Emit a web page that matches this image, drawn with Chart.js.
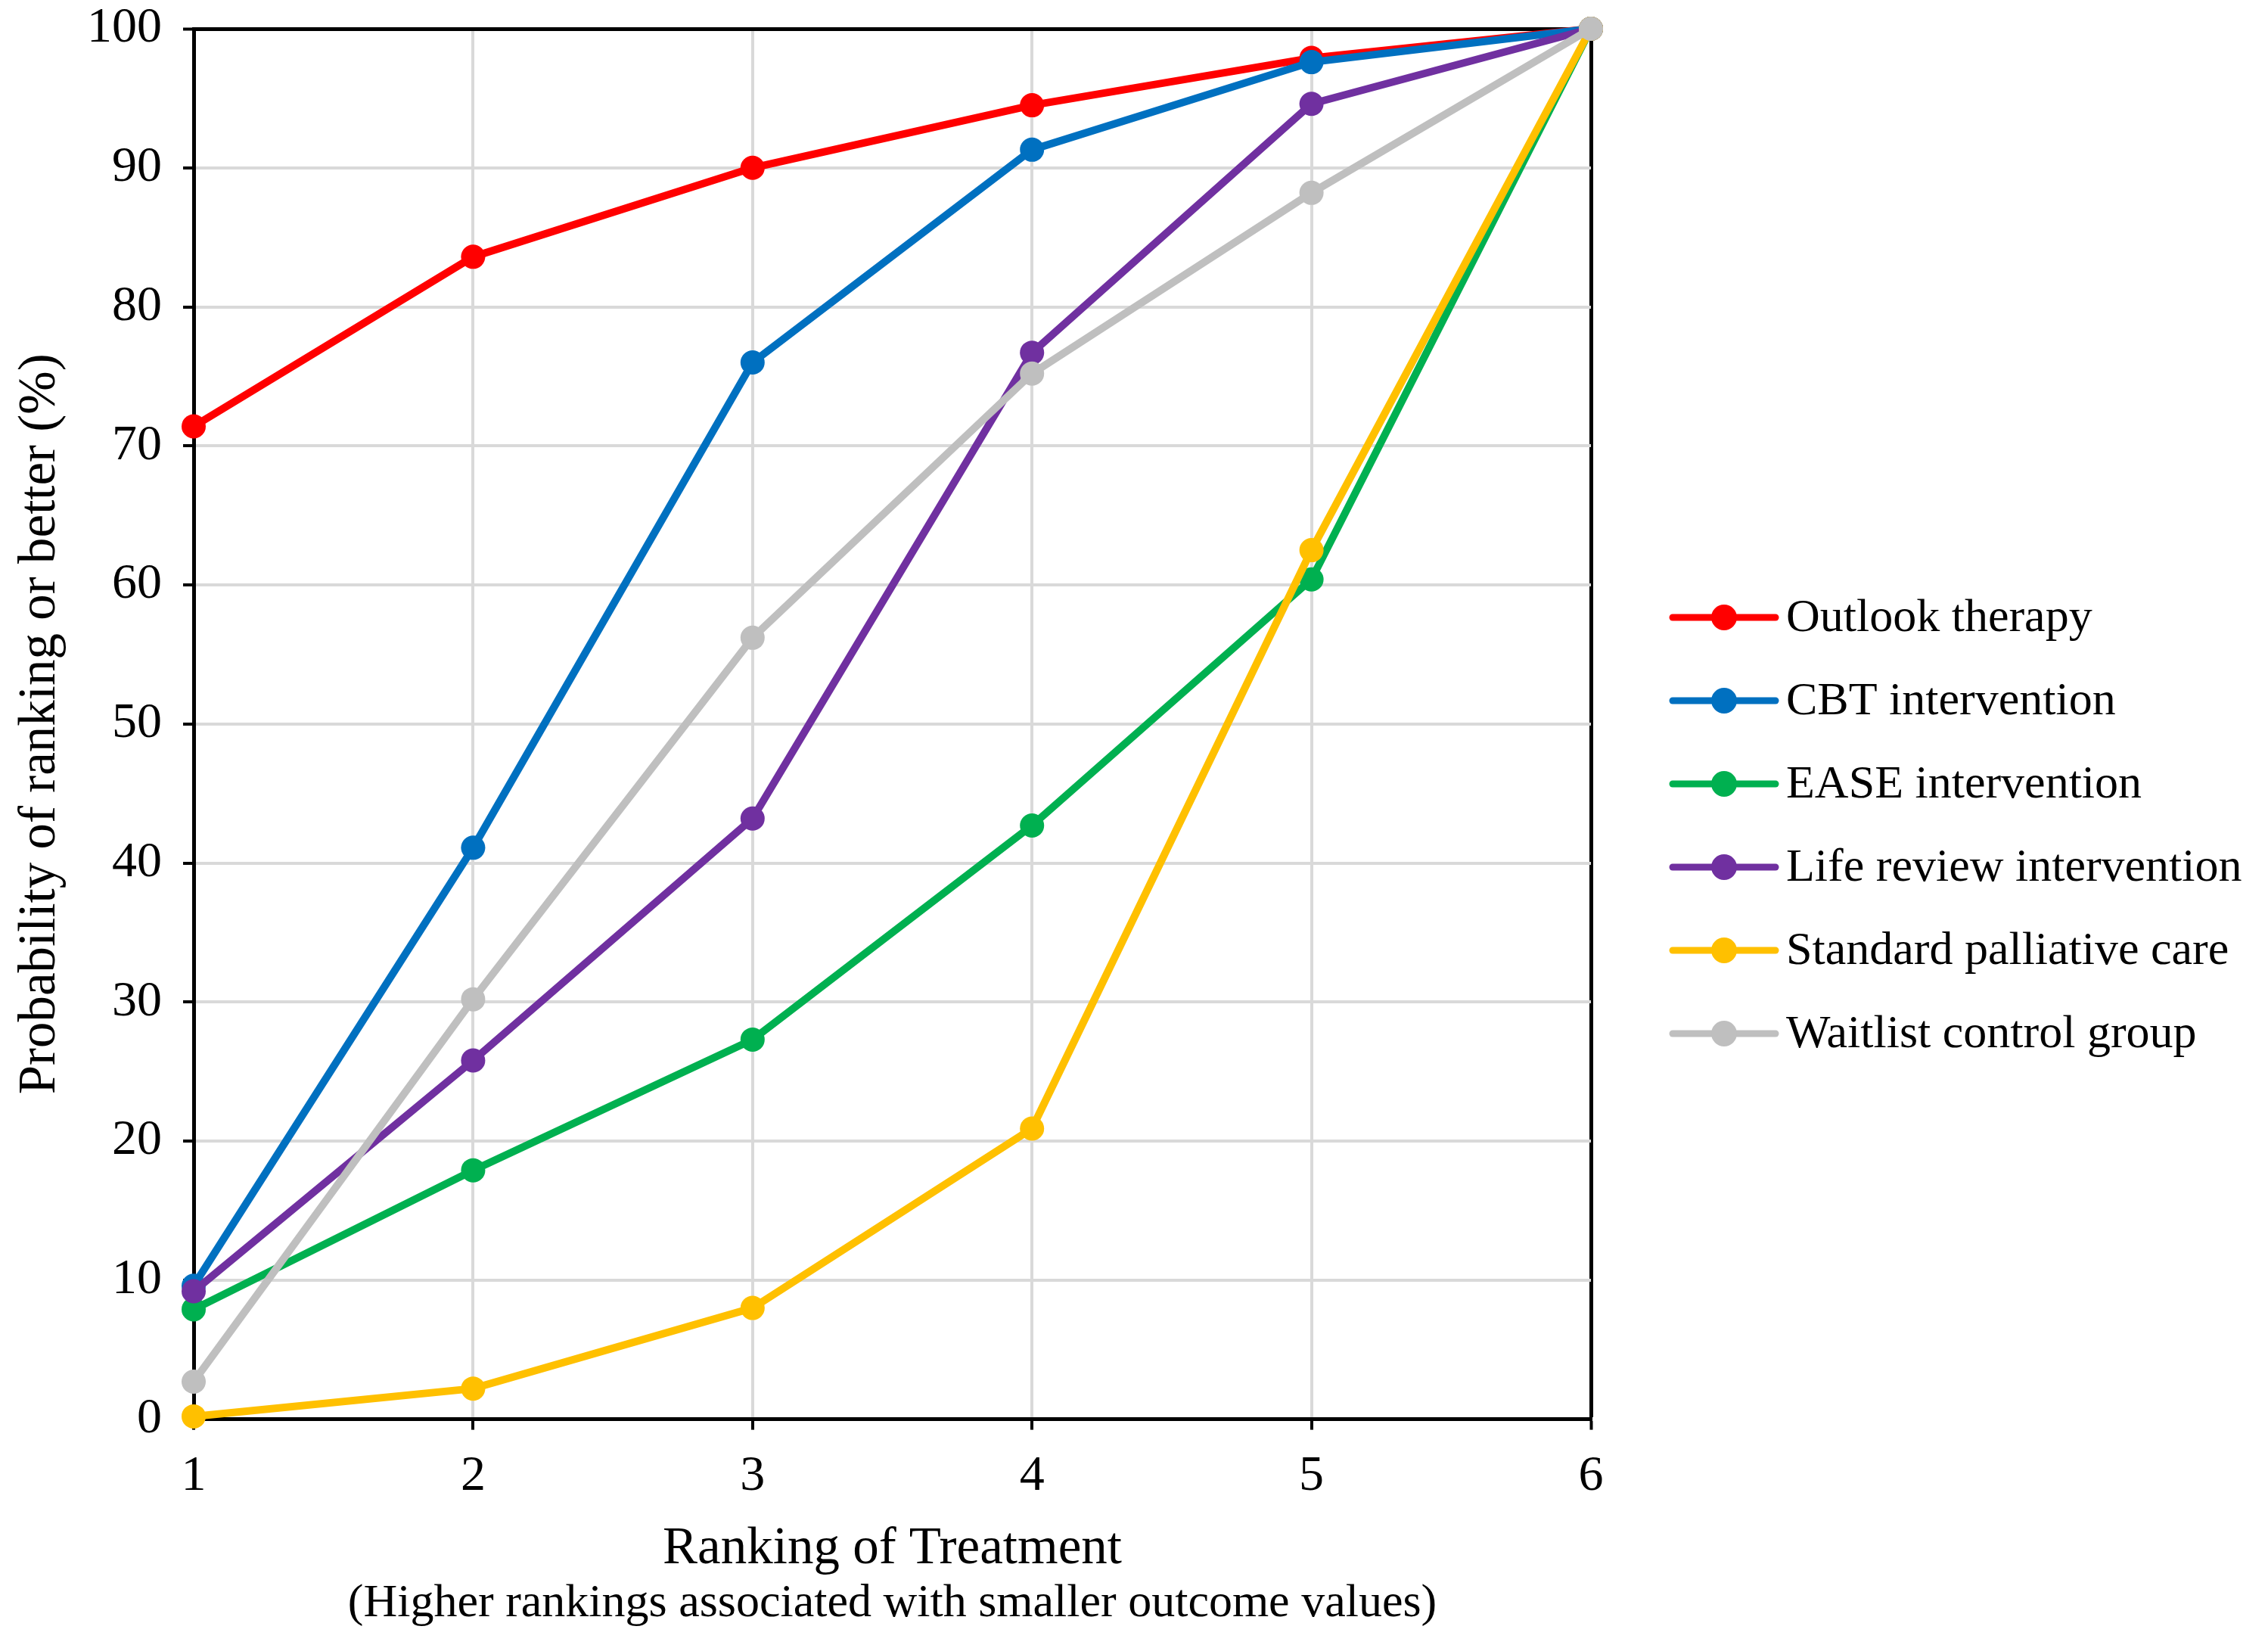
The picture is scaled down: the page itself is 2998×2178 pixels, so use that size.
<!DOCTYPE html>
<html>
<head>
<meta charset="utf-8">
<script src="https://cdn.jsdelivr.net/npm/chart.js@4/dist/chart.umd.min.js"></script>
<style>
  html, body { margin: 0; padding: 0; background: #fff; }
  #wrap { width: 2998px; height: 2178px; }
</style>
</head>
<body>
<div id="wrap"><canvas id="rankChart" width="2998" height="2178"></canvas></div>
<script>
// Datos
const rankings = ['1', '2', '3', '4', '5', '6'];
const seriesNames = ['Outlook therapy', 'CBT intervention', 'EASE intervention',
  'Life review intervention', 'Standard palliative care', 'Waitlist control group'];
const seriesColors = ['#FF0000', '#0070C0', '#00B050', '#7030A0', '#FFC000', '#BFBFBF'];

const outlookTherapy = [71.4, 83.6, 90.0, 94.5, 97.9, 100];
const cbtIntervention = [9.6, 41.1, 76.0, 91.3, 97.6, 100];
const easeIntervention = [7.9, 17.9, 27.3, 42.7, 60.4, 100];
const lifeReview = [9.2, 25.8, 43.2, 76.7, 94.6, 100];
const standardCare = [0.2, 2.2, 8.0, 20.9, 62.5, 100];
const waitlistControl = [2.7, 30.2, 56.2, 75.2, 88.2, 100];

const seriesValues = [outlookTherapy, cbtIntervention, easeIntervention, lifeReview, standardCare, waitlistControl];

const FONT = "'Liberation Serif', 'Times New Roman', serif";

const datasets = seriesNames.map((name, i) => ({
  label: name,
  data: seriesValues[i],
  borderColor: seriesColors[i],
  backgroundColor: seriesColors[i],
  borderWidth: 10,
  pointRadius: 16,
  pointHoverRadius: 16,
  pointBorderWidth: 0,
  clip: false,
  order: seriesNames.length - i // la última serie queda encima, como en Excel
}));

// Leyenda a la derecha del área de trazado (línea con punto + texto)
const sideLegend = {
  id: 'sideLegend',
  afterDraw(chart) {
    const g = chart.ctx;
    const area = chart.chartArea;
    const rowGap = 110;
    const n = chart.data.datasets.length;
    const x0 = area.right + 108;
    const y0 = chart.height / 2 - rowGap * (n - 1) / 2 + 2;
    g.save();
    g.font = "62px " + FONT;
    g.textBaseline = 'middle';
    g.textAlign = 'left';
    chart.data.datasets.forEach((ds, i) => {
      const y = y0 + i * rowGap;
      g.strokeStyle = ds.borderColor;
      g.lineWidth = 9;
      g.lineCap = 'round';
      g.beginPath();
      g.moveTo(x0, y);
      g.lineTo(x0 + 136, y);
      g.stroke();
      g.fillStyle = ds.borderColor;
      g.beginPath();
      g.arc(x0 + 68, y, 17, 0, Math.PI * 2);
      g.fill();
      g.fillStyle = '#000';
      g.fillText(ds.label, x0 + 150, y + 2);
    });
    g.restore();
  }
};

const ctx = document.getElementById('rankChart').getContext('2d');
new Chart(ctx, {
  type: 'line',
  data: { labels: rankings, datasets: datasets },
  plugins: [sideLegend],
  options: {
    responsive: false,
    animation: false,
    devicePixelRatio: 1,
    layout: { padding: { left: 12, right: 895, top: 38, bottom: 21 } },
    plugins: {
      tooltip: { enabled: false },
      legend: { display: false },
      title: {
        display: true,
        position: 'bottom',
        fullSize: false,
        text: '(Higher rankings associated with smaller outcome values)',
        color: '#000',
        font: { family: FONT, size: 62, weight: 'normal', lineHeight: 1.2 },
        padding: 0
      }
    },
    scales: {
      x: {
        offset: false,
        afterFit(scale) {
          scale.height = 207;
        },
        grid: {
          offset: false,
          color: c => (c.index === rankings.length - 1 ? '#000' : '#D9D9D9'),
          lineWidth: c => (c.index === rankings.length - 1 ? 5 : 4),
          tickColor: '#000',
          tickLength: 14,
          tickWidth: 4
        },
        border: { color: '#000', width: 5 },
        ticks: { color: '#000', font: { family: FONT, size: 66 }, padding: 22, maxRotation: 0 },
        title: {
          display: true,
          text: 'Ranking of Treatment',
          color: '#000',
          font: { family: FONT, size: 69, lineHeight: 1.0 },
          padding: { top: 23, bottom: 0 }
        }
      },
      y: {
        min: 0,
        max: 100,
        afterFit(scale) {
          scale.paddingTop = 0;
          scale.paddingBottom = 0;
          scale.width = 244;
        },
        ticks: { stepSize: 10, color: '#000', font: { family: FONT, size: 66 }, padding: 28 },
        grid: {
          color: c => (c.tick && c.tick.value === 100 ? '#000' : '#D9D9D9'),
          lineWidth: c => (c.tick && c.tick.value === 100 ? 5 : 4),
          tickColor: '#000',
          tickLength: 14,
          tickWidth: 4
        },
        border: { color: '#000', width: 5 },
        title: {
          display: true,
          text: 'Probability of ranking or better (%)',
          color: '#000',
          font: { family: FONT, size: 69 },
          padding: { top: 0, bottom: 20 }
        }
      }
    }
  }
});
</script>
</body>
</html>
